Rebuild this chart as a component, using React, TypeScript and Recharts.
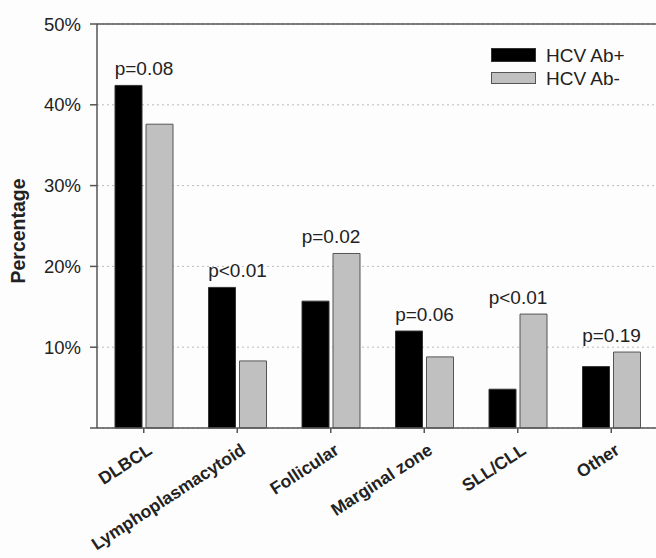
import { BarChart, Bar, XAxis, YAxis, CartesianGrid, ReferenceLine, LabelList, Legend } from 'recharts';

const categories = ['DLBCL', 'Lymphoplasmacytoid', 'Follicular', 'Marginal zone', 'SLL/CLL', 'Other'];
const hcvPositive = [42.4, 17.4, 15.7, 12.0, 4.8, 7.6];
const hcvNegative = [37.6, 8.3, 21.6, 8.8, 14.1, 9.4];
const pValues = ['p=0.08', 'p<0.01', 'p=0.02', 'p=0.06', 'p<0.01', 'p=0.19'];
const yTicks = [0, 10, 20, 30, 40, 50];

const data = categories.map((name, i) => ({
  name,
  pos: hcvPositive[i],
  neg: hcvNegative[i],
  p: pValues[i],
}));

const FONT = '"Liberation Sans", Arial, sans-serif';
const AXIS = '#555';
const TEXT = '#222';
const GRAY = '#c0c0c0';

const XTick = ({ x, y, payload }: any) => {
  const tx = x + 9.5;
  const ty = y + 18;
  return (
    <text
      x={tx}
      y={ty}
      textAnchor="end"
      transform={`rotate(-33 ${tx} ${ty})`}
      fontFamily={FONT}
      fontSize={17.5}
      fontWeight="bold"
      fill={TEXT}
    >
      {payload.value}
    </text>
  );
};

const PLabel = (props: any) => {
  const { x, y, width, height, index } = props;
  const value = hcvPositive[index];
  const top = Math.max(hcvPositive[index], hcvNegative[index]);
  const bottom = Number(y) + Number(height);
  const yTop = bottom - (Number(height) * top) / value;
  return (
    <text
      x={Number(x) + Number(width) + 2}
      y={yTop - 10}
      textAnchor="middle"
      fontFamily={FONT}
      fontSize={19}
      fill={TEXT}
    >
      {pValues[index]}
    </text>
  );
};

const LegendBox = () => (
  <svg width={170} height={50} style={{ overflow: 'visible' }}>
    <rect x={0.5} y={0.5} width={44} height={13} fill="#000" stroke="#333" />
    <text x={55} y={14} fontFamily={FONT} fontSize={19} fill={TEXT}>HCV Ab+</text>
    <rect x={0.5} y={24.5} width={44} height={11} fill={GRAY} stroke={AXIS} />
    <text x={55} y={37} fontFamily={FONT} fontSize={19} fill={TEXT}>HCV Ab-</text>
  </svg>
);

export default function App() {
  return (
    <div style={{ position: 'absolute', left: 0, top: 0, background: '#fdfdfd' }}>
      <BarChart
        width={656}
        height={558}
        data={data}
        margin={{ top: 24, right: -2, left: 0, bottom: 100 }}
        barGap={4}
        barSize={27}
      >
        <CartesianGrid vertical={false} stroke="#bbb" strokeDasharray="2 3" />
        <XAxis
          dataKey="name"
          interval={0}
          height={30}
          tick={<XTick />}
          tickSize={5}
          axisLine={{ stroke: AXIS, strokeWidth: 1.5 }}
          tickLine={{ stroke: AXIS, strokeWidth: 1.5 }}
        />
        <YAxis
          width={97}
          domain={[0, 50]}
          ticks={yTicks}
          tickFormatter={(v) => (v === 0 ? '' : `${v}%`)}
          tickSize={7}
          tickMargin={9}
          tick={{ fill: TEXT, fontSize: 18.5, fontFamily: FONT }}
          axisLine={{ stroke: AXIS, strokeWidth: 1.5 }}
          tickLine={{ stroke: AXIS, strokeWidth: 1.5 }}
          label={() => (
            <text
              x={25}
              y={231}
              transform="rotate(-90 25 231)"
              textAnchor="middle"
              fontFamily={FONT}
              fontSize={19.5}
              fontWeight="bold"
              fill={TEXT}
            >
              Percentage
            </text>
          )}
        />
        <ReferenceLine y={50} stroke={AXIS} strokeWidth={1.5} />
        <Legend
          layout="horizontal"
          verticalAlign="middle"
          align="center"
          content={<LegendBox />}
          wrapperStyle={{ position: 'absolute', left: 491, top: 48, width: 170, height: 50, overflow: 'visible' }}
        />
        <Bar dataKey="pos" name="HCV Ab+" fill="#000" stroke="#333" isAnimationActive={false}>
          <LabelList dataKey="p" content={<PLabel />} />
        </Bar>
        <Bar dataKey="neg" name="HCV Ab-" fill={GRAY} stroke={AXIS} isAnimationActive={false} />
      </BarChart>
    </div>
  );
}
